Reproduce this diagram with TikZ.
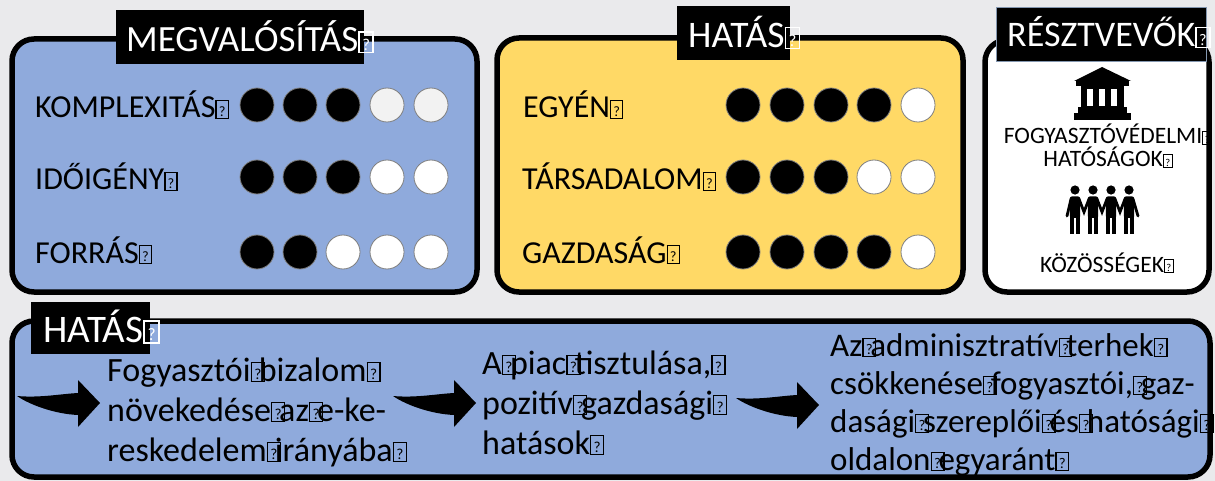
\documentclass[tikz,border=0pt]{standalone}
\usepackage{fontspec}
\setmainfont{Carlito}
\usepackage{graphicx}
\definecolor{bg}{HTML}{EAEAEC}
\definecolor{pblue}{HTML}{8FAADC}
\definecolor{pyellow}{HTML}{FFD966}
\definecolor{lgray}{HTML}{F2F2F2}
\definecolor{cgray}{HTML}{7F7F7F}
\definecolor{hblue}{HTML}{8497B0}
\newcommand\qbx[1]{\makebox[#1][l]{\fboxsep=0pt\fboxrule=0.04em\fbox{\makebox[0.34em]{\rule{0pt}{0.52em}\raisebox{0.04em}{\scalebox{0.45}{?}}}}}}
\newcommand\qb{\qbx{0.42em}}
\newcommand\qs{\qbx{0.24em}}
\begin{document}
\begin{tikzpicture}[x=1pt,y=-1pt,
  panel/.style={draw=black,line width=5.5pt,rounded corners=22pt},
  hdrbox/.style={fill=black,inner sep=0pt,anchor=north west},
  hdrtext/.style={text=white,anchor=base west,inner sep=0pt},
  lbl/.style={anchor=base west,inner sep=0pt,font=\fontsize{32}{38}\selectfont},
  smalllbl/.style={anchor=base,inner sep=0pt,align=center,font=\fontsize{23.5}{23}\selectfont},
  dotbase/.style={circle,draw=cgray,line width=0.8pt,minimum size=34pt,inner sep=0pt},
  dotfull/.style={dotbase,fill=black},
  dotempty/.style={dotbase,fill=white},
  dotgray/.style={dotbase,fill=lgray},
  para/.style={anchor=base west,inner sep=0pt,align=left},
  bigarrow/.pic={\fill[black] (0,0) .. controls (23,2) and (43,-2) .. (61,-3) -- (61,-16) -- (83,7) -- (61,31) -- (61,19) .. controls (38,18) and (13,9) .. (0,0) -- cycle;},
]
\useasboundingbox (0,0) rectangle (1215,481);
\fill[bg] (0,0) rectangle (1215,481);

% panels
\draw[panel,fill=pblue] (12,39) rectangle (477,292);
\draw[panel,fill=pyellow] (497,38) rectangle (963,292);
\draw[panel,fill=white] (985,40) rectangle (1209,292);
\draw[panel,fill=pblue] (12,321) rectangle (1210,477);

% headers
\node[hdrbox,minimum width=248pt,minimum height=54pt] (h1) at (116,10) {};
\node[hdrtext,font=\fontsize{37}{40}\selectfont] (h1t) at (126,52) {MEGVALÓSÍTÁS\qb};
\node[hdrbox,minimum width=113pt,minimum height=54pt] (h2) at (677,6) {};
\node[hdrtext,font=\fontsize{37.5}{40}\selectfont] (h2t) at (688,48) {HATÁS\qb};
\node[hdrbox,draw=hblue,line width=1pt,minimum width=210pt,minimum height=54pt] (h3) at (996,7) {};
\node[hdrtext,font=\fontsize{36}{40}\selectfont] (h3t) at (1007,47) {RÉSZTVEVŐK\qb};
\node[hdrbox,minimum width=119pt,minimum height=52pt] (h4) at (31,302) {};
\node[hdrtext,font=\fontsize{39}{42}\selectfont] (h4t) at (43,342) {HATÁS\qb};

% box 1 labels and dots
\node[lbl] (l11) at (35,118) {KOMPLEXITÁS\qb};
\node[lbl] (l12) at (35,190) {IDŐIGÉNY\qb};
\node[lbl] (l13) at (35,263) {FORRÁS\qb};
\foreach \x/\s [count=\i] in {257/dotfull,300/dotfull,343/dotfull,387/dotgray,431/dotgray}
  \node[\s] (a1\i) at (\x,105) {};
\foreach \x/\s [count=\i] in {257/dotfull,300/dotfull,343/dotfull,387/dotempty,431/dotempty}
  \node[\s] (a2\i) at (\x,177) {};
\foreach \x/\s [count=\i] in {257/dotfull,300/dotfull,343/dotempty,387/dotempty,431/dotempty}
  \node[\s] (a3\i) at (\x,252) {};

% box 2 labels and dots
\node[lbl] (l21) at (523,118) {EGYÉN\qb};
\node[lbl] (l22) at (522,190) {TÁRSADALOM\qb};
\node[lbl] (l23) at (522,263) {GAZDASÁG\qb};
\foreach \x/\s [count=\i] in {743/dotfull,787/dotfull,831/dotfull,874/dotfull,918/dotempty}
  \node[\s] (b1\i) at (\x,105) {};
\foreach \x/\s [count=\i] in {743/dotfull,787/dotfull,831/dotfull,874/dotempty,918/dotempty}
  \node[\s] (b2\i) at (\x,177) {};
\foreach \x/\s [count=\i] in {743/dotfull,787/dotfull,831/dotfull,874/dotfull,918/dotempty}
  \node[\s] (b3\i) at (\x,252) {};

% box 3: bank icon
\fill[black] (1074,81) -- (1102,67) -- (1131,81) -- cycle;
\fill[black] (1076,81) rectangle (1129,86);
\fill[black] (1081,86) rectangle (1124,108);
\fill[white] (1087,89) rectangle (1093,106);
\fill[white] (1099,89) rectangle (1105,106);
\fill[white] (1111,89) rectangle (1117,106);
\fill[black] (1078,107) rectangle (1127,113);
\fill[black] (1074,113) rectangle (1131,120);
\node[smalllbl] (r1) at (1108,167) {FOGYASZTÓVÉDELMI\qb\\HATÓSÁGOK\qb};
% people icon
\foreach \hx/\kind in {1075/w,1093/m,1111/w,1129/m}{
  \fill[black] (\hx,190) circle (4.6);
  \ifx\kind w
    \fill[black] (\hx-4,197) -- (\hx+4,197) -- (\hx+7.5,220) -- (\hx-7.5,220) -- cycle;
    \fill[black] (\hx-3.2,219) rectangle (\hx-0.9,234);
    \fill[black] (\hx+0.9,219) rectangle (\hx+3.2,234);
  \else
    \fill[black, rounded corners=2pt] (\hx-5.2,196.5) rectangle (\hx+5.2,218);
    \fill[black] (\hx-4.6,216) rectangle (\hx-0.7,234);
    \fill[black] (\hx+0.7,216) rectangle (\hx+4.6,234);
  \fi
}
\draw[black,line width=2.8pt,line cap=round] (1071,199) -- (1067,216);
\draw[black,line width=2.8pt,line cap=round] (1133,199) -- (1138,216);
\draw[black,line width=2.8pt,line cap=round] (1079,199) -- (1084,212) -- (1089,199);
\draw[black,line width=2.8pt,line cap=round] (1097,199) -- (1102,212) -- (1107,199);
\draw[black,line width=2.8pt,line cap=round] (1115,199) -- (1120,212) -- (1125,199);
\node[smalllbl] (r2) at (1107,272) {KÖZÖSSÉGEK\qb};

% bottom flow
\pic at (17,396) {bigarrow};
\node[para,font=\fontsize{34}{40}\selectfont] (t1) at (107,461)
  {Fogyasztói\qs bizalom\qb\\növekedése\qs az\qs e-ke-\\reskedelem\qs irányába\qb};
\pic at (393,396) {bigarrow};
\node[para,font=\fontsize{34}{40}\selectfont] (t2) at (482,454)
  {A\qs piac\qs tisztulása,\qb\\pozitív\qs gazdasági\qb\\hatások\qb};
\pic at (736,398) {bigarrow};
\node[para,font=\fontsize{33}{38}\selectfont] (t3) at (830,470)
  {Az\qs adminisztratív\qs terhek\qb\\csökkenése\qs fogyasztói,\qs gaz-\\dasági\qs szereplői\qs és\qs hatósági\qb\\oldalon\qs egyaránt\qb};
\end{tikzpicture}
\end{document}
